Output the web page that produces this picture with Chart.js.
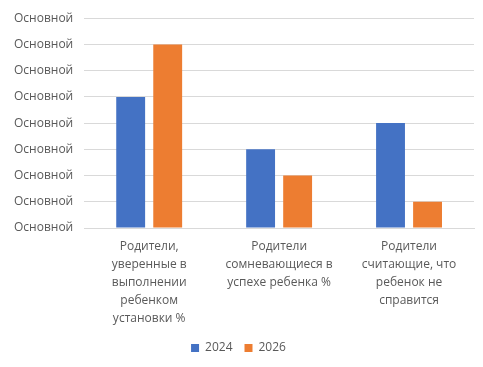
<!DOCTYPE html>
<html>
<head>
<meta charset="utf-8">
<script src="https://cdn.jsdelivr.net/npm/chart.js@4"></script>
<style>
  body { margin: 0; background: #fff; }
  #wrap { width: 483px; height: 367px; }
</style>
</head>
<body>
<div id="wrap"><canvas id="chart" width="483" height="367"></canvas></div>
<script>
const categories = [
  ['Родители,', 'уверенные в', 'выполнении', 'ребенком', 'установки %'],
  ['Родители', 'сомневающиеся в', 'успехе ребенка %'],
  ['Родители', 'считающие, что', 'ребенок не', 'справится']
];
const series2024 = [5, 3, 4];
const series2026 = [7, 2, 1];
const tickLabels = ['Основной', 'Основной', 'Основной', 'Основной', 'Основной', 'Основной', 'Основной', 'Основной', 'Основной'];

const textColor = '#595959';
const fontFamily = '"Open Sans", "Noto Sans", sans-serif';

new Chart(document.getElementById('chart').getContext('2d'), {
  type: 'bar',
  data: {
    labels: categories,
    datasets: [
      { label: '2024', data: series2024, backgroundColor: '#4472C4', categoryPercentage: 0.57, barPercentage: 0.78 },
      { label: '2026', data: series2026, backgroundColor: '#ED7D31', categoryPercentage: 0.57, barPercentage: 0.78 }
    ]
  },
  options: {
    responsive: false,
    animation: false,
    layout: { padding: { top: 10, right: 9, bottom: 3, left: 3 } },
    plugins: {
      legend: {
        position: 'bottom',
        labels: { boxWidth: 8, boxHeight: 8, color: textColor, font: { family: fontFamily, size: 12 }, padding: 12 }
      },
      tooltip: { enabled: false }
    },
    scales: {
      x: {
        grid: { display: false },
        border: { color: '#d9d9d9' },
        ticks: { color: textColor, font: { family: fontFamily, size: 12, lineHeight: 1.5 }, maxRotation: 0, padding: 2 }
      },
      y: {
        min: 0,
        max: 8,
        border: { display: false },
        grid: { color: '#d9d9d9', drawTicks: false },
        ticks: {
          stepSize: 1,
          padding: 11,
          color: textColor,
          font: { family: fontFamily, size: 12 },
          callback: (v, i) => tickLabels[i]
        }
      }
    }
  }
});
</script>
</body>
</html>
